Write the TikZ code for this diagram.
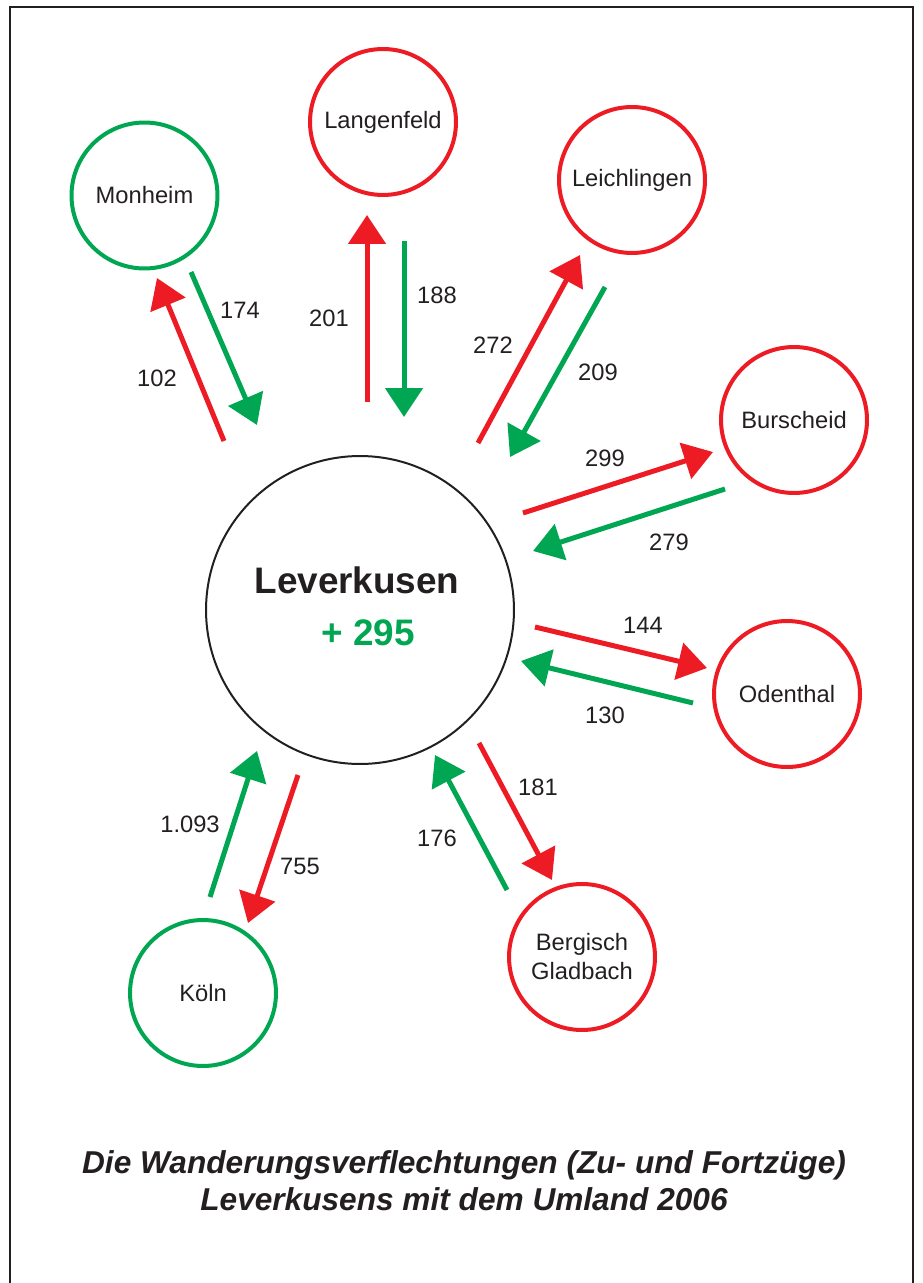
\documentclass[tikz,border=0pt]{standalone}
\usepackage{fontspec}
\setmainfont{Liberation Sans}
\usepackage{xcolor}
\usetikzlibrary{arrows.meta}

\definecolor{wred}{RGB}{237,28,36}
\definecolor{wgreen}{RGB}{0,166,81}
\definecolor{wtext}{RGB}{35,31,32}

\begin{document}
\begin{tikzpicture}[x=0.02cm, y=-0.02cm,
      town/.style={circle, draw, line width=0.08cm, minimum size=2.92cm, inner sep=0pt, align=center, text=wtext, font=\fontsize{13.5}{16.5}\selectfont},
      flow/.style={line width=0.1cm, -{Triangle[length=0.58cm, width=0.74cm]}},
      fortzug/.style={flow, wred},
      zuzug/.style={flow, wgreen},
      number/.style={text=wtext, inner sep=0pt, font=\fontsize{13.5}{16}\selectfont}
    ]
    \useasboundingbox (0,0) rectangle (922,1283);
    % Frame
    \draw[wtext, line width=0.04cm] (10,1290) -- (10,7) -- (913,7) -- (913,1290);

    % Leverkusen
    \node[circle, draw=wtext, line width=0.04cm, minimum size=6.16cm] (lev) at (360,610) {};
    \node[text=wtext, inner sep=0pt, font=\fontsize{21}{24}\selectfont\bfseries] (levname) at (357,580) {Leverkusen};
    \node[text=wgreen, inner sep=0pt, font=\fontsize{21}{24}\selectfont\bfseries] (levsum) at (368,633) {+ 295};

    % Neighbours
    \node[town, draw=wgreen] (monheim) at (144.5,195.5) {Monheim};
    \node[town, draw=wred] (langenfeld) at (383,122) {Langenfeld};
    \node[town, draw=wred] (leichlingen) at (632,180) {Leichlingen};
    \node[town, draw=wred] (burscheid) at (794,420) {Burscheid};
    \node[town, draw=wred] (odenthal) at (787,694) {Odenthal};
    \node[town, draw=wred] (bergisch) at (582,957) {Bergisch\\Gladbach};
    \node[town, draw=wgreen] (koeln) at (203,993) {Köln};

    % Arrow ends
    \coordinate (mon-r1) at (224,441); \coordinate (mon-r2) at (157,278);
    \coordinate (mon-g1) at (191,272); \coordinate (mon-g2) at (257,425);
    \coordinate (lan-r1) at (367,402); \coordinate (lan-r2) at (367,215);
    \coordinate (lan-g1) at (404,241); \coordinate (lan-g2) at (404,417);
    \coordinate (lei-r1) at (478,443); \coordinate (lei-r2) at (580,255);
    \coordinate (lei-g1) at (605,287); \coordinate (lei-g2) at (510,457);
    \coordinate (bur-r1) at (523,513); \coordinate (bur-r2) at (713,452);
    \coordinate (bur-g1) at (725,489); \coordinate (bur-g2) at (533,551);
    \coordinate (ode-r1) at (535,627); \coordinate (ode-r2) at (707,668);
    \coordinate (ode-g1) at (693,703); \coordinate (ode-g2) at (521,661);
    \coordinate (ber-r1) at (479,743); \coordinate (ber-r2) at (552,880);
    \coordinate (ber-g1) at (507,890); \coordinate (ber-g2) at (435,755);
    \coordinate (koe-r1) at (298,775); \coordinate (koe-r2) at (248,923);
    \coordinate (koe-g1) at (210,897); \coordinate (koe-g2) at (257,751);

    % Fortzuege (red) and Zuzuege (green)
    \draw[fortzug] (mon-r1) -- (mon-r2);
    \draw[zuzug] (mon-g1) -- (mon-g2);
    \draw[fortzug] (lan-r1) -- (lan-r2);
    \draw[zuzug] (lan-g1) -- (lan-g2);
    \draw[fortzug] (lei-r1) -- (lei-r2);
    \draw[zuzug] (lei-g1) -- (lei-g2);
    \draw[fortzug] (bur-r1) -- (bur-r2);
    \draw[zuzug] (bur-g1) -- (bur-g2);
    \draw[fortzug] (ode-r1) -- (ode-r2);
    \draw[zuzug] (ode-g1) -- (ode-g2);
    \draw[fortzug] (ber-r1) -- (ber-r2);
    \draw[zuzug] (ber-g1) -- (ber-g2);
    \draw[fortzug] (koe-r1) -- (koe-r2);
    \draw[zuzug] (koe-g1) -- (koe-g2);

    % Numbers
    \node[number] (n-mon-r) at (157,378) {102};
    \node[number] (n-mon-g) at (240,310) {174};
    \node[number] (n-lan-r) at (329,318) {201};
    \node[number] (n-lan-g) at (437,295) {188};
    \node[number] (n-lei-r) at (493,345) {272};
    \node[number] (n-lei-g) at (598,372) {209};
    \node[number] (n-bur-r) at (605,458) {299};
    \node[number] (n-bur-g) at (669,542) {279};
    \node[number] (n-ode-r) at (643,625) {144};
    \node[number] (n-ode-g) at (605,715) {130};
    \node[number] (n-ber-r) at (538,787) {181};
    \node[number] (n-ber-g) at (437,838) {176};
    \node[number] (n-koe-g) at (190,824) {1.093};
    \node[number] (n-koe-r) at (300,866) {755};

    % Caption
    \node[anchor=base, text=wtext, inner sep=0pt, font=\fontsize{18}{21}\selectfont\bfseries\itshape] (caption1) at (464,1173) {Die Wanderungsverflechtungen (Zu- und Fortzüge)};
    \node[anchor=base, text=wtext, inner sep=0pt, font=\fontsize{18}{21}\selectfont\bfseries\itshape] (caption2) at (464,1210) {Leverkusens mit dem Umland 2006};
  \end{tikzpicture}
\end{document}
